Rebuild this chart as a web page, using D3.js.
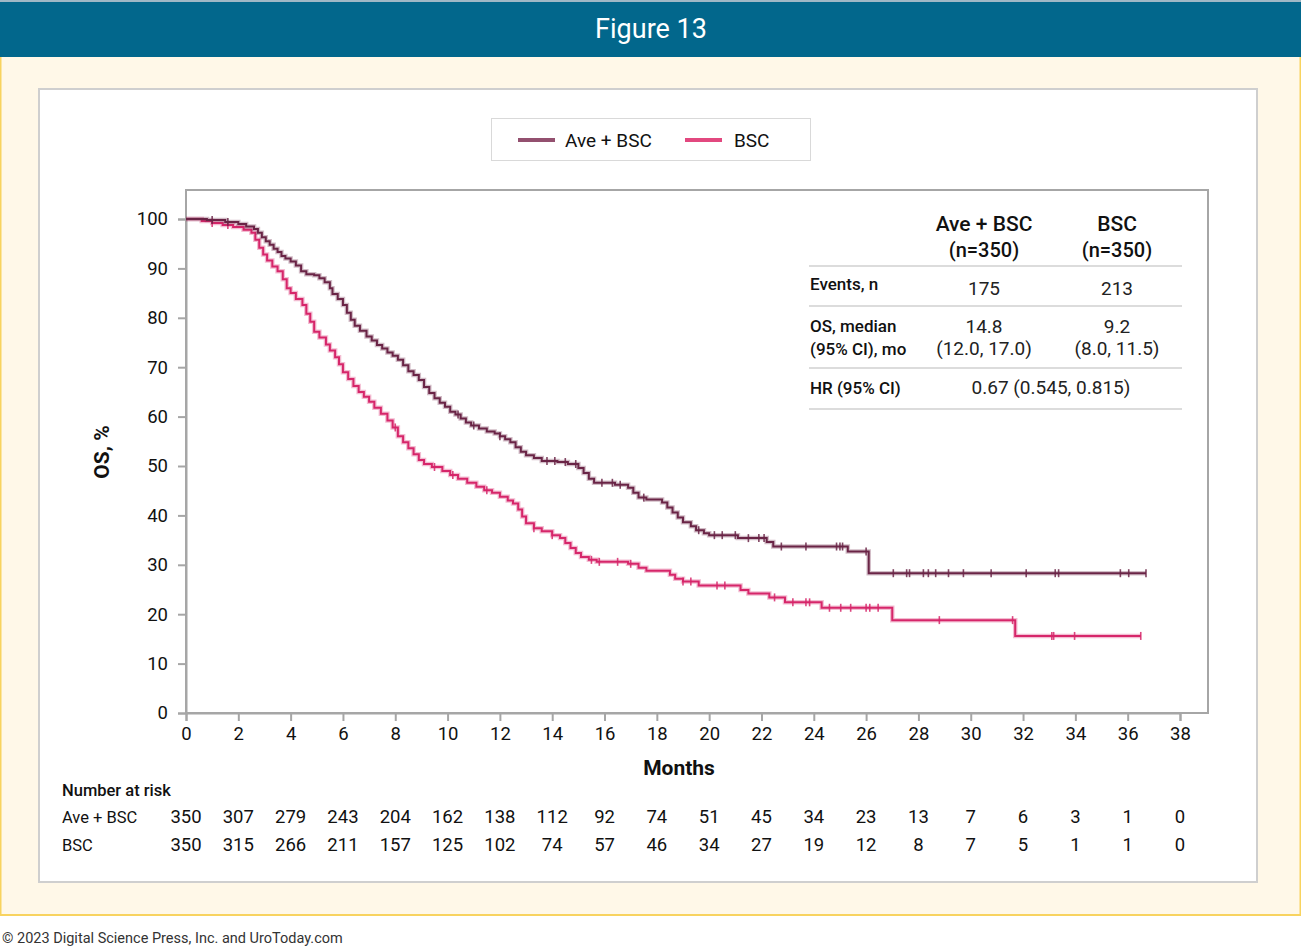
<!DOCTYPE html>
<html><head><meta charset="utf-8">
<script src="https://cdn.jsdelivr.net/npm/d3@7"></script>
<style>
html,body{margin:0;padding:0;background:#fff;}
svg{display:block;font-family:Roboto,"Noto Sans",sans-serif;}
</style></head>
<body>
<svg id="c" width="1301" height="948"></svg>
<script>
// ---------- data ----------
const seriesNames = ["Ave + BSC", "BSC"];
const xTicks = [0,2,4,6,8,10,12,14,16,18,20,22,24,26,28,30,32,34,36,38];
const yTicks = [0,10,20,30,40,50,60,70,80,90,100];
const riskAve = [350,307,279,243,204,162,138,112,92,74,51,45,34,23,13,7,6,3,1,0];
const riskBsc = [350,315,266,211,157,125,102,74,57,46,34,27,19,12,8,7,5,1,1,0];

// Kaplan-Meier steps: [month, OS %]
const kmAve = [[0,100],[0.8,99.8],[1.5,99.4],[2.0,99.0],[2.3,98.5],[2.6,98.0],[2.75,97.2],[2.9,96.3],[3.05,95.5],[3.2,94.8],[3.35,94.0],[3.5,93.3],[3.65,92.5],[3.8,92.0],[4.0,91.4],[4.2,90.6],[4.4,89.4],[4.6,88.8],[4.9,88.6],[5.1,88.0],[5.3,87.2],[5.5,86.0],[5.6,84.8],[5.8,83.8],[6.0,82.6],[6.15,81.0],[6.3,79.6],[6.45,78.4],[6.65,77.4],[6.9,76.2],[7.1,75.4],[7.3,74.5],[7.5,73.8],[7.7,73.0],[7.9,72.3],[8.1,71.5],[8.3,70.4],[8.5,69.2],[8.7,68.4],[8.9,67.4],[9.1,66.0],[9.3,64.8],[9.5,63.7],[9.7,62.8],[9.9,62.0],[10.1,61.0],[10.3,60.4],[10.5,59.6],[10.7,58.8],[10.9,58.2],[11.2,57.6],[11.5,57.0],[11.8,56.6],[12.0,56.0],[12.2,55.4],[12.4,54.8],[12.6,53.8],[12.8,52.9],[13.0,52.2],[13.3,51.6],[13.6,51.0],[14.2,50.8],[14.6,50.4],[15.0,49.6],[15.2,48.6],[15.4,47.4],[15.6,46.6],[16.4,46.2],[16.9,45.6],[17.1,44.6],[17.3,43.6],[17.6,43.2],[18.2,42.6],[18.4,41.6],[18.6,40.6],[18.8,39.6],[19.0,38.6],[19.3,37.8],[19.5,37.0],[19.8,36.4],[20.0,36.0],[21.1,35.4],[22.2,34.6],[22.45,33.7],[25.3,32.7],[26.1,28.3],[36.7,28.3]];
const kmBsc = [[0,100],[0.6,99.6],[1.0,99.2],[1.4,98.8],[1.8,98.4],[2.2,97.8],[2.5,97.2],[2.65,95.8],[2.8,94.2],[2.95,92.8],[3.1,91.6],[3.3,90.4],[3.5,89.4],[3.7,87.8],[3.85,86.0],[4.0,85.0],[4.2,83.8],[4.45,82.6],[4.6,80.8],[4.75,79.2],[4.9,77.2],[5.1,76.0],[5.35,74.6],[5.5,73.4],[5.7,72.0],[5.85,70.6],[6.0,69.0],[6.2,67.6],[6.4,66.2],[6.6,65.0],[6.8,64.0],[7.0,63.0],[7.2,61.8],[7.45,60.6],[7.7,59.2],[7.9,57.8],[8.1,56.0],[8.3,54.8],[8.5,53.6],[8.7,52.4],[8.9,51.2],[9.1,50.4],[9.4,49.8],[9.8,49.0],[10.1,48.2],[10.4,47.4],[10.75,46.6],[11.1,45.8],[11.4,45.1],[11.7,44.6],[12.0,43.8],[12.3,43.0],[12.5,42.4],[12.7,41.2],[12.85,39.8],[13.0,38.4],[13.3,37.4],[13.6,36.8],[14.0,36.0],[14.3,35.4],[14.5,34.4],[14.7,33.4],[14.9,32.4],[15.1,31.6],[15.4,31.0],[15.7,30.6],[16.9,30.2],[17.3,29.4],[17.6,28.8],[18.5,28.0],[18.7,27.2],[19.0,26.6],[19.6,25.8],[21.2,24.9],[21.5,24.2],[22.3,23.4],[22.9,22.4],[24.3,21.3],[27.0,18.8],[31.7,15.6],[36.5,15.6]];

// censored observations (months)
const censAve = [1.0,1.6,10.4,11.0,12.0,13.8,14.1,14.5,14.9,15.9,16.3,16.6,17.5,19.6,20.2,20.5,21.0,21.5,21.9,22.1,22.76,23.7,24.87,25.0,25.1,26.0,27.04,27.55,27.66,28.19,28.38,28.66,29.15,29.72,30.78,32.12,33.23,33.36,35.72,36.04,36.7];
const censBsc = [1.0,1.6,8.0,9.5,10.2,11.5,13.3,14.0,15.5,15.8,16.5,17.0,19.0,19.3,20.3,20.6,22.5,23.2,23.7,23.84,24.6,25.03,25.41,26.0,26.14,26.46,28.8,31.6,33.1,33.17,33.97,36.5];

// summary table
const tableHead = [["Ave + BSC","(n=350)"],["BSC","(n=350)"]];
const rowEvents = ["Events, n","175","213"];
const rowMedian = [["OS, median","(95% CI), mo"],["14.8","(12.0, 17.0)"],["9.2","(8.0, 11.5)"]];
const rowHR = ["HR (95% CI)","0.67 (0.545, 0.815)"];

const colors = {ave:"#6a2446", bsc:"#d6266a", aveLegend:"#93506f", bscLegend:"#e2487f"};

// ---------- drawing ----------
const svg = d3.select("#c");
const W = 1301;

// background / frame
svg.append("rect").attr("x",0).attr("y",0).attr("width",W).attr("height",948).attr("fill","#ffffff");
svg.append("rect").attr("x",0).attr("y",56).attr("width",W).attr("height",859).attr("fill","#fff8e8");
svg.append("rect").attr("x",0.5).attr("y",56).attr("width",W-1).attr("height",859).attr("fill","none").attr("stroke","#f8d35f").attr("stroke-width",2);
svg.append("rect").attr("x",0).attr("y",0).attr("width",W).attr("height",57).attr("fill","#02678c");
svg.append("rect").attr("x",0).attr("y",0).attr("width",W).attr("height",2).attr("fill","#9fb8c6");
svg.append("text").attr("x",651).attr("y",38).attr("text-anchor","middle").attr("fill","#fff")
  .attr("font-size",27).attr("font-family","'Liberation Sans Narrow',Roboto,sans-serif").text("Figure 13");
svg.append("text").attr("x",2).attr("y",943).attr("fill","#333").attr("font-size",14.5).text("© 2023 Digital Science Press, Inc. and UroToday.com");

// white panel
svg.append("rect").attr("x",39).attr("y",89).attr("width",1218).attr("height",793).attr("fill","#fff").attr("stroke","#cfcfcf").attr("stroke-width",2);

// legend
svg.append("rect").attr("x",491.5).attr("y",118.5).attr("width",319).attr("height",42).attr("fill","#fff").attr("stroke","#d9d9d9");
[[518,colors.aveLegend,seriesNames[0],565],[685,colors.bscLegend,seriesNames[1],734]].forEach(([lx,c,t,tx])=>{
  svg.append("line").attr("x1",lx).attr("x2",lx+37).attr("y1",140).attr("y2",140).attr("stroke",c).attr("stroke-width",4);
  svg.append("text").attr("x",tx).attr("y",147).attr("font-size",19).attr("fill","#111").text(t);
});

const x = d3.scaleLinear().domain([0,38]).range([186,1180]);
const y = d3.scaleLinear().domain([0,100]).range([713,219]);

// plot frame
svg.append("rect").attr("x",186).attr("y",190).attr("width",1022).attr("height",523).attr("fill","none").attr("stroke","#a6a6a6").attr("stroke-width",2);

// axes
const gx = svg.append("g").attr("transform","translate(0,713)")
  .call(d3.axisBottom(x).tickValues(xTicks).tickSize(8).tickPadding(1).tickFormat(d3.format("d")));
const gy = svg.append("g").attr("transform","translate(186,0)")
  .call(d3.axisLeft(y).tickValues(yTicks).tickSize(8).tickPadding(10).tickFormat(d3.format("d")));
[gx,gy].forEach(g=>{
  g.select(".domain").attr("stroke","#a6a6a6").attr("stroke-width",2);
  g.selectAll(".tick line").attr("stroke","#a6a6a6").attr("stroke-width",2);
  g.selectAll(".tick text").attr("font-size",18.5).attr("fill","#111").attr("font-family","Roboto,sans-serif");
});
gx.selectAll(".tick text").attr("dy","0.95em");
gy.selectAll(".tick text").attr("dy","0.32em");

svg.append("text").attr("transform","translate(109,452) rotate(-90)").attr("text-anchor","middle")
  .attr("font-size",21).attr("font-weight","bold").attr("fill","#111").text("OS, %");
svg.append("text").attr("x",679).attr("y",775).attr("text-anchor","middle")
  .attr("font-size",21).attr("font-weight","bold").attr("fill","#111").text("Months");

// curves
const line = d3.line().x(d=>x(d[0])).y(d=>y(d[1])).curve(d3.curveStepAfter);
function stepVal(km,t){const i=d3.bisector(d=>d[0]).right(km,t)-1;return km[Math.max(0,i)][1];}
function drawCurve(km,cens,c){
  svg.append("path").datum(km).attr("d",line).attr("fill","none").attr("stroke",c).attr("stroke-opacity",0.3).attr("stroke-width",4.5);
  svg.append("path").datum(km).attr("d",line).attr("fill","none").attr("stroke",c).attr("stroke-width",2);
  svg.append("g").selectAll("line").data(cens).join("line")
    .attr("x1",d=>x(d)).attr("x2",d=>x(d))
    .attr("y1",d=>y(stepVal(km,d))-4).attr("y2",d=>y(stepVal(km,d))+4)
    .attr("stroke",c).attr("stroke-width",1.6).attr("stroke-opacity",0.85);
}
drawCurve(kmBsc,censBsc,colors.bsc);
drawCurve(kmAve,censAve,colors.ave);

// summary table
const tb = svg.append("g");
[[984,tableHead[0]],[1117,tableHead[1]]].forEach(([cx,h])=>{
  tb.append("text").attr("x",cx).attr("y",231).attr("text-anchor","middle").attr("font-size",21).attr("font-weight",500).attr("fill","#111").text(h[0]);
  tb.append("text").attr("x",cx).attr("y",257).attr("text-anchor","middle").attr("font-size",20).attr("font-weight",500).attr("fill","#111").text(h[1]);
});
[266,306,368,409].forEach(ly=>tb.append("line").attr("x1",809).attr("x2",1182).attr("y1",ly).attr("y2",ly).attr("stroke","#d0d0d0").attr("stroke-width",1.5));
tb.append("text").attr("x",810).attr("y",290).attr("font-size",17).attr("font-weight",500).attr("fill","#111").text(rowEvents[0]);
tb.append("text").attr("x",984).attr("y",295).attr("text-anchor","middle").attr("font-size",19).attr("fill","#222").text(rowEvents[1]);
tb.append("text").attr("x",1117).attr("y",295).attr("text-anchor","middle").attr("font-size",19).attr("fill","#222").text(rowEvents[2]);
tb.append("text").attr("x",810).attr("y",332).attr("font-size",17).attr("font-weight",500).attr("fill","#111").text(rowMedian[0][0]);
tb.append("text").attr("x",810).attr("y",355).attr("font-size",17).attr("font-weight",500).attr("fill","#111").text(rowMedian[0][1]);
[[984,rowMedian[1]],[1117,rowMedian[2]]].forEach(([cx,v])=>{
  tb.append("text").attr("x",cx).attr("y",333).attr("text-anchor","middle").attr("font-size",19).attr("fill","#222").text(v[0]);
  tb.append("text").attr("x",cx).attr("y",355).attr("text-anchor","middle").attr("font-size",19).attr("fill","#222").text(v[1]);
});
tb.append("text").attr("x",810).attr("y",394).attr("font-size",17).attr("font-weight",500).attr("fill","#111").text(rowHR[0]);
tb.append("text").attr("x",1051).attr("y",394).attr("text-anchor","middle").attr("font-size",19).attr("fill","#222").text(rowHR[1]);

// number at risk
svg.append("text").attr("x",62).attr("y",796).attr("font-size",16.5).attr("font-weight",500).attr("fill","#111").text("Number at risk");
[[seriesNames[0],riskAve,823],[seriesNames[1],riskBsc,851]].forEach(([n,vals,ry])=>{
  svg.append("text").attr("x",62).attr("y",ry).attr("font-size",16.5).attr("fill","#111").text(n);
  svg.append("g").selectAll("text").data(vals).join("text")
    .attr("x",(d,i)=>x(xTicks[i])).attr("y",ry).attr("text-anchor","middle")
    .attr("font-size",18.5).attr("fill","#111").text(d=>d);
});
</script>
</body></html>
